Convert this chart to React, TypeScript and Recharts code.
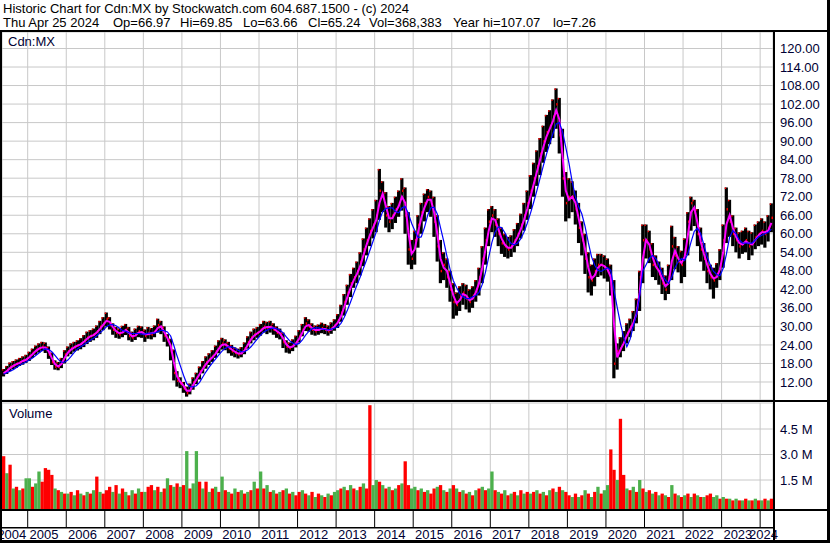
import { ComposedChart, Bar, Line, XAxis, YAxis, CartesianGrid } from 'recharts';

// monthly bars, first one is May 2004, last one Apr 2024
const START = 2004 + 4 / 12;
const END = START + 20;

const closes = [
  15, 16, 17, 17.5, 18, 18.5, 19, 19.5, // 2004
  20.5, 21.5, 22.5, 23, 23.5, 23, 21, 18.5, 17, 17, 18.5, 21, // 2005
  22, 23, 23.5, 24, 24.5, 25.5, 26.5, 27, 27.5, 28.5, 30, 31, // 2006
  32.5, 30.5, 29, 28, 27.5, 28.5, 29, 27, 26.5, 27.5, 28.5, 28, // 2007
  27, 28, 27.5, 28.5, 30.5, 29.5, 27, 25.5, 22, 15, 12.5, 11.5, // 2008
  10, 8.5, 10, 12, 13.5, 15.5, 17, 18.5, 19.5, 20.5, 22, 23.5, // 2009
  24.5, 24, 23, 22, 21.5, 21, 21.5, 23, 25, 26.5, 27.5, 28, // 2010
  29, 30, 29.5, 30, 29, 28, 27.5, 25, 23.5, 23, 24, 25, // 2011
  27, 29, 31, 30, 29, 28.5, 29, 29.5, 29, 28.5, 29.5, 30.5, // 2012
  32, 34.5, 38, 41, 44, 46, 48, 51, 55, 58, 61, 63, // 2013
  66, 74, 72, 66, 64, 66, 68, 70, 74, 66, 55, 52, // 2014
  58, 63, 67, 70, 72, 70, 64, 56, 48, 50, 46, 42, // 2015
  38, 37, 40, 41, 39, 38, 40, 42, 46, 52, 58, 64, // 2016
  66, 63, 60, 57, 56, 55, 56, 58, 60, 63, 66, 70, // 2017
  74, 78, 82, 86, 90, 93, 95, 98, 102, 92, 78, 70, // 2018
  72, 72, 68, 62, 58, 52, 46, 45, 48, 50, 50, 49, // 2019
  48, 44, 18, 22, 23, 26, 28, 30, 32, 36, 46, 58, // 2020
  58, 55, 50, 49, 47, 44, 42, 46, 56, 53, 51, 50, // 2021
  55, 64, 70, 67, 60, 55, 52, 48, 46, 45, 47, 50, // 2022
  58, 68, 64, 60, 58, 56, 57, 58, 56, 57, 59, 60, // 2023
  61, 60, 62, 65.24, // 2024
];

const lows = [
  13.8, 14.6, 15.5, 16.2, 16.6, 17.2, 17.6, 18.2,
  18.8, 19.8, 20.8, 21.5, 22, 21.4, 19.5, 17.5, 16, 15.8, 16.5, 18,
  20.3, 21, 21.8, 22.2, 22.6, 23.3, 24.3, 25, 25.5, 26.3, 27.5, 28.8,
  30, 29, 27.3, 26.3, 26, 26.5, 27.2, 25.5, 25, 25.6, 26.5, 26.3,
  25, 26, 25.8, 26.5, 28, 27.5, 25, 23.5, 19, 12.5, 10.5, 10,
  8.5, 7.26, 8, 9.5, 11.3, 12.8, 14.8, 16.3, 17.5, 18.5, 19.8, 21.3,
  22.5, 22.3, 21.3, 20.5, 20, 19.6, 20, 21, 22.8, 24.5, 25.5, 26.3,
  27, 28, 27.5, 28, 27.3, 26.3, 25.8, 23, 21.5, 21.2, 22, 23.2,
  24.8, 26.8, 28.5, 28.3, 27.3, 27, 27.3, 27.8, 27.5, 27, 27.6, 28.6,
  29.5, 31.5, 33.5, 37, 39.5, 42.5, 44, 46.5, 49.5, 53, 56, 58.5,
  60.5, 64.5, 67, 62, 60.5, 61.5, 63.5, 65.5, 67.5, 60, 50, 48.5,
  50, 55.5, 60, 64, 67, 65.5, 59, 51, 44, 45, 42.5, 38,
  32.5, 33.5, 35, 37, 35.5, 34.5, 36, 38, 40, 44, 50, 56,
  60.5, 59, 56, 53.5, 52.5, 52, 52.5, 54, 56, 58.5, 61, 64.5,
  68, 72, 75.5, 79, 83, 86.5, 89, 91, 94, 86, 72, 64,
  65, 67, 63, 57, 53, 47, 41, 40, 43, 46, 46.5, 45.5,
  44.5, 40, 13.2, 16, 20, 22, 24.5, 26.5, 28.5, 31, 35, 44,
  52, 50.5, 46, 45, 43.5, 40.5, 38.5, 40.5, 45, 48.5, 47.5, 44,
  46, 53, 61, 62.5, 56, 51, 48, 44, 42, 39, 42.5, 45,
  49, 57, 59, 56, 54, 52, 53.5, 54, 51.5, 53, 55, 56,
  56.5, 55.5, 57.5, 60.5,
];

const highs = [
  16.2, 17.2, 18.3, 18.8, 19.3, 19.8, 20.3, 20.8,
  21.8, 22.8, 23.8, 24.5, 25, 24.8, 23.5, 21.5, 19, 18.5, 19.8, 22.3,
  23.5, 24.5, 25, 25.5, 26.2, 27.2, 28.3, 28.8, 29.3, 30.3, 31.8, 33,
  34.5, 33, 31, 29.8, 29.3, 30.2, 30.8, 29.8, 28.3, 29.3, 30.2, 30,
  29, 29.8, 29.5, 30.3, 32.5, 31.8, 30, 27.5, 26, 22.5, 15.5, 13.5,
  12, 10.5, 11.5, 13.5, 15, 17, 18.8, 20.3, 21.3, 22.3, 23.8, 25.5,
  26.3, 25.8, 25, 24, 23.2, 22.8, 23.3, 24.8, 26.8, 28.3, 29.3, 29.8,
  30.8, 31.8, 31.5, 31.8, 31, 30, 29.3, 28, 25.5, 24.8, 25.8, 27,
  28.8, 30.8, 33, 32.3, 31, 30.3, 30.6, 31.2, 30.8, 30.3, 31.3, 32.3,
  34, 37, 40.5, 43.5, 47, 49, 51, 54, 58.5, 62, 65, 68,
  71, 81, 77, 73.5, 69, 70, 72, 74, 78, 75, 67, 58,
  61, 66, 70, 73, 74.5, 74, 72, 66, 58, 54, 52, 48,
  44, 41, 43, 44, 43.5, 42, 43, 45, 49, 56, 62, 68,
  69, 68, 65, 62, 60, 59, 59.5, 61.5, 63.5, 66.5, 70, 74,
  79, 83, 87, 91, 95, 98.5, 100, 103.5, 107.07, 104, 94, 80,
  78, 77, 74, 70, 64, 60, 54, 50, 52, 53.5, 53.5, 53,
  52, 50, 45, 24.5, 26.5, 28.5, 31, 32.5, 35, 39, 48, 63,
  63, 61, 57, 53, 51, 49, 46.5, 50, 62.6, 59, 56, 54.5,
  58.5, 67, 72, 71, 68, 62, 57, 54, 50, 49, 50.5, 55,
  63, 75, 71, 66, 62, 60.5, 61, 62, 61, 60.5, 63, 64,
  65, 64, 66, 69.85,
];

// magenta average
const fastAvg = [
  14.8, 15.5, 16.5, 17.2, 17.8, 18.2, 18.8, 19.2,
  20, 21, 22, 22.8, 23.2, 23.2, 22, 19.8, 17.8, 17, 17.8, 19.8,
  21.5, 22.5, 23.2, 23.8, 24.2, 25, 26, 26.8, 27.2, 28, 29.2, 30.5,
  31.8, 31.5, 29.8, 28.5, 27.8, 28, 28.8, 28, 26.8, 27, 28, 28.2,
  27.5, 27.5, 27.8, 28, 29.5, 30, 28.2, 26.2, 23.8, 18.5, 13.8, 12,
  10.8, 9.2, 9.2, 11, 12.8, 14.5, 16.2, 17.8, 19, 20, 21.2, 22.8,
  24, 24.2, 23.5, 22.5, 21.8, 21.2, 21.2, 22.2, 24, 25.8, 27, 27.8,
  28.5, 29.5, 29.8, 29.8, 29.5, 28.5, 27.8, 26.2, 24.2, 23.2, 23.5, 24.5,
  26, 28, 30, 30.5, 29.5, 28.8, 28.8, 29.2, 29.2, 28.8, 29, 30,
  31.2, 33.2, 36.2, 39.5, 42.5, 45, 47, 49.5, 53, 56.5, 59.5, 62,
  64.5, 70, 73, 69, 65, 65, 67, 69, 72, 70, 60.5, 53.5,
  55, 60.5, 65, 68.5, 71, 71, 67, 60, 52, 49, 48, 44,
  40, 37.5, 38.5, 40.5, 40, 38.5, 39, 41, 44, 49, 55, 61,
  65, 64.5, 61.5, 58.5, 56.5, 55.5, 55.5, 57, 59, 61.5, 64.5, 68,
  72, 76, 80, 84, 88, 91.5, 94, 96.5, 100, 97, 85, 74,
  71, 72, 70, 65, 60, 55, 49, 45.5, 46.5, 49, 50, 49.5,
  48.5, 46, 31, 20, 22.5, 24.5, 27, 29, 31, 34, 41, 52,
  58, 56.5, 52.5, 49.5, 48, 45.5, 43, 44, 51, 54.5, 52, 50.5,
  52.5, 59.5, 67, 68.5, 63.5, 57.5, 53.5, 50, 47, 45.5, 46, 48.5,
  54, 63, 66, 62, 59, 57, 56.5, 57.5, 57, 56.5, 58, 59.5,
  60.5, 60.5, 61, 63.5,
];

// blue average
const slowAvg = [
  14.5, 15, 15.5, 16, 16.7, 17.4, 18, 18.5,
  19.1, 19.8, 20.6, 21.4, 22.2, 22.7, 22.6, 21.8, 20.6, 19.3, 18.4, 18.4,
  19.1, 20.3, 21.6, 22.7, 23.4, 24.1, 24.8, 25.5, 26.2, 27, 27.9, 28.8,
  29.9, 30.5, 30.6, 30.2, 29.5, 28.7, 28.4, 28, 27.7, 27.7, 27.7, 27.5,
  27.5, 27.8, 27.8, 27.8, 28.3, 28.8, 28.6, 28.2, 26.9, 23.8, 20.4, 17.3,
  14.2, 11.5, 10.5, 10.4, 10.8, 11.9, 13.6, 15.3, 16.8, 18.2, 19.5, 20.8,
  22, 22.9, 23.4, 23.4, 23, 22.3, 21.8, 21.8, 22.4, 23.4, 24.7, 26,
  27.2, 28.2, 28.8, 29.3, 29.5, 29.3, 28.8, 27.9, 26.6, 25.4, 24.6, 24.1,
  24.5, 25.6, 27.2, 28.4, 29.2, 29.5, 29.5, 29.2, 29, 28.9, 29.1, 29.4,
  29.9, 31, 32.9, 35.2, 37.9, 40.7, 43.4, 46, 48.8, 51.6, 54.6, 57.6,
  60.6, 64.4, 67.2, 68.2, 68.4, 68.4, 67.2, 66.8, 68.4, 68.8, 66.6, 63.4,
  61, 58.8, 59, 62, 66, 68.4, 68.6, 66.4, 62, 57.6, 52.8, 48.4,
  44.8, 42.6, 40.6, 39.6, 39, 39, 39.6, 40, 41, 43.6, 47.6, 52.4,
  57.2, 60.6, 62.2, 62, 60.4, 58.2, 56.8, 56.4, 57, 58.4, 60.6, 63.4,
  66.6, 70.2, 74, 78, 82, 85.8, 89.2, 92.4, 95.6, 96, 93, 88,
  82.8, 76.8, 72, 68.8, 66.4, 62.4, 57.2, 52.6, 49.8, 48.2, 47.8, 48.4,
  49, 48.2, 41.8, 36.2, 31, 26.6, 23.4, 25.8, 30, 34, 40, 48,
  50, 52, 53, 52, 50, 47, 45, 44, 46, 49, 51, 52,
  51.4, 53.6, 57.4, 60.8, 61.8, 60, 56.4, 52.6, 49.8, 47.8, 46.8, 46.4,
  48.8, 53.4, 59, 61, 60, 58, 57, 57, 57, 57, 58, 59,
  59.5, 60, 60.5, 61.5,
];

// volume in millions of shares
const volumes = [
  2.9, 1.9, 2.4, 1.0, 1.1, 0.9, 1.0, 1.6,
  1.6, 1.1, 1.3, 2.0, 1.4, 2.2, 2.1, 1.8, 1.0, 0.9, 0.8, 0.7,
  0.7, 0.8, 0.6, 0.9, 0.7, 0.6, 0.8, 0.7, 0.9, 1.7, 0.8, 0.7,
  0.9, 1.1, 0.8, 1.2, 0.7, 1.0, 0.8, 0.6, 0.9, 0.7, 1.0, 0.8,
  0.8, 1.1, 1.2, 0.9, 1.1, 0.8, 1.0, 1.6, 1.2, 1.1, 1.3, 1.1,
  1.2, 3.2, 1.0, 1.3, 3.2, 1.4, 1.0, 1.4, 0.8, 1.0, 1.1, 0.8,
  1.7, 0.9, 0.8, 0.7, 1.0, 0.8, 0.9, 0.7, 0.8, 0.9, 1.4, 1.0,
  2.0, 1.0, 1.2, 0.8, 0.9, 0.7, 0.8, 0.9, 1.0, 0.7, 0.8, 0.6,
  0.8, 0.9, 0.7, 0.6, 0.8, 0.5, 0.7, 0.6, 0.5, 0.7, 0.6, 0.8,
  0.9, 1.0, 1.1, 0.9, 1.2, 1.0, 0.9, 1.1, 1.3, 1.0, 5.9, 1.2,
  1.5, 1.4, 1.2, 1.0, 1.1, 0.9, 1.0, 1.2, 1.3, 2.6, 1.2, 1.0,
  1.1, 0.9, 1.0, 0.8, 0.9, 0.7, 1.0, 1.1, 1.2, 0.9, 0.8, 1.0,
  1.2, 1.0, 0.8, 0.9, 0.7, 0.8, 0.6, 0.9, 1.0, 1.1, 0.9, 1.0,
  2.0, 0.9, 0.8, 0.7, 0.9, 0.6, 0.7, 0.8, 0.6, 0.9, 0.7, 0.8,
  0.7, 0.8, 0.9, 0.7, 0.8, 0.6, 0.9, 1.0, 0.8, 1.1, 0.9, 0.8,
  0.6, 0.5, 0.7, 0.5, 0.6, 0.9, 0.7, 0.5, 0.8, 1.1, 0.7, 0.9,
  1.2, 3.3, 2.1, 1.5, 5.1, 1.8, 1.0, 0.9, 1.1, 0.8, 1.5, 1.0,
  0.8, 0.9, 0.7, 0.8, 0.6, 0.7, 0.6, 0.5, 1.2, 0.7, 0.6, 0.5,
  0.6, 0.7, 0.5, 0.7, 0.6, 0.5, 0.5, 0.6, 0.7, 0.5, 0.6, 0.4,
  0.5, 0.4, 0.4, 0.3, 0.4, 0.3, 0.3, 0.4, 0.3, 0.3, 0.4, 0.3,
  0.3, 0.4, 0.3, 0.4,
];

// g = up volume, r = down volume
const volumeSides = [
  'rgrgrgrg',
  'grggrrrrgrgr',
  'grgrgrgrgrgr',
  'rrgrgrgrgrgr',
  'grrgrgrgrgrg',
  'rgrggrgrgrgr',
  'grgrgrgrgrgr',
  'grgrgrgrgrgr',
  'rgrgrgrgrgrg',
  'grgrgrgrgrrg',
  'grgrgrgrgrrg',
  'grgrgrrgrgrg',
  'rgrgrgrgrgrg',
  'grgrgrgrgrgr',
  'grgrgrgrgrgr',
  'rgrgrgrgrgrg',
  'grrgrrgrgrgr',
  'grgrgrgrgrgr',
  'grgrgrgrrggr',
  'grgrgrgrgrgr',
  'grgr',
].join('');

const yearTicks = [2005, 2006, 2007, 2008, 2009, 2010, 2011, 2012, 2013, 2014, 2015, 2016, 2017, 2018, 2019, 2020, 2021, 2022, 2023, 2024];
const priceTicks = [12, 18, 24, 30, 36, 42, 48, 54, 60, 66, 72, 78, 84, 90, 96, 102, 108, 114, 120];
const volumeTicks = [1500000, 3000000, 4500000];

const PRICE_DOMAIN: [number, number] = [6.17, 125.34];
const VOL_FLOOR = -206000;
const VOL_DOMAIN: [number, number] = [VOL_FLOOR, 6030000];

const rows = closes.map((close, i) => ({
  t: START + (i + 0.5) / 12,
  range: [lows[i], highs[i]],
  close,
  fast: fastAvg[i],
  slow: slowAvg[i],
  volRange: [VOL_FLOOR, volumes[i] * 1e6],
  up: volumeSides[i] === 'g',
}));

// year labels sit in the middle of the visible part of each year
const labelTicks = [
  (START + yearTicks[0]) / 2,
  ...yearTicks.slice(0, -1).map((y) => y + 0.5),
  (yearTicks[yearTicks.length - 1] + END) / 2,
];
const stripTicks = [...yearTicks, ...labelTicks].sort((a, b) => a - b);

const FONT = '"Liberation Sans", Arial, sans-serif';
const INK = '#000033';
const GRID = '#c8c8c8';
const GREEN = '#4cb04c';
const RED = '#ff0000';

const PriceBar = (p: any) => {
  const { x, y, width, height, payload } = p;
  if (x == null || y == null) return null;
  const top = Math.min(y, y + height);
  const h = Math.max(Math.abs(height), 1);
  const [lo, hi] = payload.range;
  const cy = top + ((hi - payload.close) / (hi - lo)) * h;
  const cx = x + width / 2;
  return (
    <g>
      <rect x={cx - 1.6} y={top} width={3.2} height={h} fill="#000" />
      <rect x={cx + 0.2} y={cy - 1} width={2} height={2.5} fill={RED} />
      <rect x={cx - 1.6} y={top} width={1.4} height={1.5} fill={RED} />
    </g>
  );
};

const VolumeBar = (p: any) => {
  const { x, y, width, height, payload } = p;
  if (x == null || y == null) return null;
  const top = Math.min(y, y + height);
  return <rect x={x} y={top} width={width + 0.3} height={Math.abs(height)} fill={payload.up ? GREEN : RED} />;
};

const YearTick = (p: any) => {
  const { x, y, payload } = p;
  const v = payload.value;
  if (Number.isInteger(v)) {
    return <line x1={x} x2={x} y1={y} y2={y + 18} stroke="#000" strokeWidth={1} />;
  }
  return (
    <text x={x - 3} y={y + 30} textAnchor="middle" fontFamily={FONT} fontSize={13} fill={INK}>
      {Math.floor(v)}
    </text>
  );
};

const axisTick = { fontFamily: FONT, fontSize: 13, fill: INK };

export default function App() {
  return (
    <div style={{ position: 'absolute', left: 0, top: 0, width: 830, height: 543, background: '#fff', overflow: 'hidden' }}>
      <div style={{ position: 'absolute', left: 0, top: 0 }}>
        <ComposedChart width={830} height={543} data={rows} margin={{ top: 32, right: 2, bottom: 143, left: 2 }}>
          <CartesianGrid stroke={GRID} xAxisId="t" />
          <XAxis xAxisId="t" dataKey="t" type="number" domain={[START, END]} ticks={yearTicks} hide allowDataOverflow />
          <YAxis
            orientation="right"
            width={55}
            domain={PRICE_DOMAIN}
            ticks={priceTicks}
            allowDataOverflow
            axisLine={false}
            tickLine={false}
            tickSize={0}
            tickMargin={7}
            interval={0}
            tick={axisTick}
            tickFormatter={(v: number) => v.toFixed(2)}
          />
          <Bar xAxisId="t" dataKey="range" barSize={3} shape={PriceBar} isAnimationActive={false} />
          <Line xAxisId="t" dataKey="fast" stroke="#ff00ff" strokeWidth={2} dot={false} isAnimationActive={false} />
          <Line xAxisId="t" dataKey="slow" stroke="#0000ff" strokeWidth={1.2} dot={false} isAnimationActive={false} />
        </ComposedChart>
      </div>
      <div style={{ position: 'absolute', left: 0, top: 0 }}>
        <ComposedChart width={830} height={543} data={rows} margin={{ top: 403, right: 2, bottom: 0, left: 2 }}>
          <CartesianGrid stroke={GRID} xAxisId="t" />
          <XAxis xAxisId="t" dataKey="t" type="number" domain={[START, END]} ticks={yearTicks} hide allowDataOverflow />
          <XAxis
            xAxisId="lab"
            dataKey="t"
            type="number"
            domain={[START, END]}
            ticks={stripTicks}
            interval={0}
            height={34}
            axisLine={false}
            tickLine={false}
            tickSize={0}
            tickMargin={0}
            tick={YearTick}
            allowDataOverflow
          />
          <YAxis
            orientation="right"
            width={55}
            domain={VOL_DOMAIN}
            ticks={volumeTicks}
            allowDataOverflow
            axisLine={false}
            tickLine={false}
            tickSize={0}
            tickMargin={7}
            interval={0}
            tick={axisTick}
            tickFormatter={(v: number) => `${(v / 1e6).toFixed(1)} M`}
          />
          <Bar xAxisId="t" dataKey="volRange" barSize={3} shape={VolumeBar} isAnimationActive={false} />
        </ComposedChart>
      </div>
      <svg width={830} height={543} style={{ position: 'absolute', left: 0, top: 0, pointerEvents: 'none' }}>
        <g fontFamily={FONT} fontSize={13} fill="#000">
          <text x={3} y={13}>Historic Chart for Cdn:MX by Stockwatch.com 604.687.1500 - (c) 2024</text>
          <text x={3} y={27}>Thu Apr 25 2024</text>
          <text x={113} y={27}>Op=66.97</text>
          <text x={180} y={27}>Hi=69.85</text>
          <text x={243} y={27}>Lo=63.66</text>
          <text x={308} y={27}>Cl=65.24</text>
          <text x={369} y={27}>Vol=368,383</text>
          <text x={453} y={27}>Year hi=107.07</text>
          <text x={553} y={27}>lo=7.26</text>
          <text x={8} y={46} fill={INK}>Cdn:MX</text>
          <text x={9} y={418} fill={INK}>Volume</text>
        </g>
        <g fill="#000">
          <rect x={0} y={30} width={830} height={2} />
          <rect x={0} y={30} width={2} height={513} />
          <rect x={827} y={0} width={3} height={543} />
          <rect x={773} y={30} width={2} height={513} />
          <rect x={0} y={400} width={830} height={2} />
          <rect x={0} y={509} width={830} height={2} />
          <rect x={0} y={527} width={773} height={1.5} />
          <rect x={0} y={540} width={830} height={3} />
        </g>
      </svg>
    </div>
  );
}
